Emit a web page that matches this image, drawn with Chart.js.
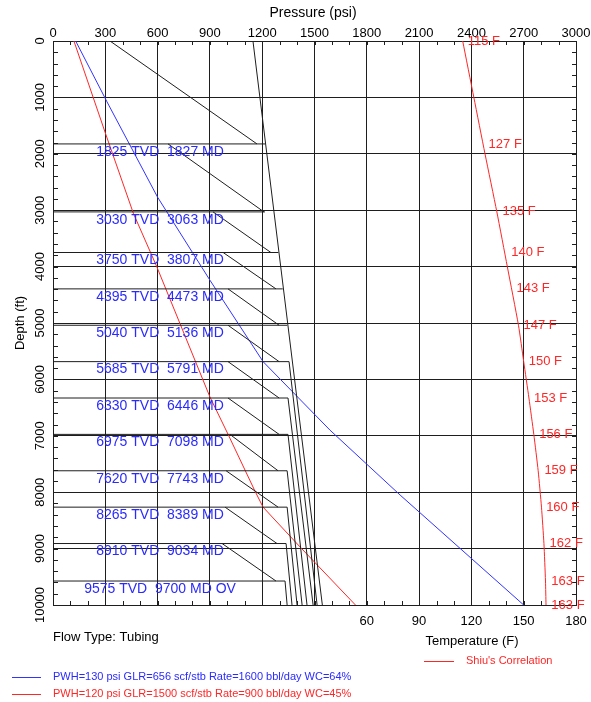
<!DOCTYPE html>
<html><head><meta charset="utf-8">
<script src="https://cdn.jsdelivr.net/npm/chart.js@4/dist/chart.umd.min.js"></script>
<style>html,body{margin:0;padding:0;background:#fff;}</style>
</head><body>
<canvas id="c" width="591" height="702" style="display:block;width:591px;height:702px"></canvas>
<script>
// ---------- data ----------
const pressureTicks = [0,300,600,900,1200,1500,1800,2100,2400,2700,3000];
const depthTicks = [0,1000,2000,3000,4000,5000,6000,7000,8000,9000,10000];
const tempTicks = [60,90,120,150,180];

// PWH=130 psi GLR=656 (blue)
const blueP = [130,310,600,900,1205,1589,1991,2700];
const blueD = [0,1080,2770,4240,5685,6900,8050,10000];
// PWH=120 psi GLR=1500 (red)
const redP = [120,300,461,595,900,1006,1160,1205,1417,1735];
const redD = [0,1630,3055,4000,6310,6986,7990,8265,8970,10000];

// Temperature (Shiu's correlation)
const tempF = [115,121.4,127.8,134.6,140.6,147,150,153,155.8,158.3,160.2,161.6,162.5,162.8];
const tempD = [0,1000,2000,3030,4000,5040,5685,6330,6975,7620,8265,8910,9575,10000];
const tempLabelF = [115,127,135,140,143,147,150,153,156,159,160,162,163,163];
const tempLabelD = [0,1825,3030,3750,4395,5040,5685,6330,6975,7620,8265,8910,9575,10000];

// Valves
const valveTVD = [1825,3030,3750,4395,5040,5685,6330,6975,7620,8265,8910,9575];
const valveMD = [1827,3063,3807,4473,5136,5791,6446,7098,7743,8389,9034,9700];
const valveSuffix = ['','','','','','','','','','','',' OV'];
const valveEndP = [1218,1216,1293,1318,1344,1354,1348,1348,1343,1343,1337,1331];
const valveBottomP = [null,null,null,null,null,1515,1492,1457,1429,1400,1371,1343];

// Unloading gradient lines
const diagStartP = [327,660,918,976,1004,1004,1004,1004,1015,993,987,970];
const diagStartD = [0,1825,3030,3750,4395,5040,5685,6330,6975,7620,8265,8910];
const diagEndP = [1170,1210,1250,1279,1297,1297,1297,1297,1291,1291,1285,1279];
const diagEndD = [1825,3030,3750,4395,5040,5685,6330,6975,7620,8265,8910,9575];

// Casing (injection) pressure line
const casingP = [1147,1545];
const casingD = [0,10000];

// ---------- build datasets ----------
const BLUE = '#3333ff', RED = '#ff2626', BLACK = '#1e1e1e';
const zip = (xs, ys) => xs.map((x,i)=>({x, y: ys[i]}));
const line = (data, color, extra) => Object.assign({data, borderColor: color, borderWidth: 1, pointRadius: 0, showLine: true, fill: false, tension: 0}, extra||{});

const datasets = [];
datasets.push(line([{x:casingP[0],y:casingD[0]},{x:casingP[1],y:casingD[1]}], BLACK));
valveTVD.forEach((d,i)=>{
  const pts = [{x:0,y:d},{x:valveEndP[i],y:d}];
  if (valveBottomP[i] !== null) pts.push({x:valveBottomP[i], y:10000});
  datasets.push(line(pts, BLACK));
});
diagStartP.forEach((p,i)=>{
  datasets.push(line([{x:p,y:diagStartD[i]},{x:diagEndP[i],y:diagEndD[i]}], BLACK));
});
datasets.push(line(zip(blueP, blueD), BLUE));
datasets.push(line(zip(redP, redD), RED));
datasets.push(line(zip(tempF, tempD), RED, {xAxisID: 'xT', tension: 0.2}));

const FONT = '"Liberation Sans", Arial, sans-serif';

const overlay = {
  id: 'overlay',
  afterDraw(chart) {
    const ctx = chart.ctx;
    const x = chart.scales.x, y = chart.scales.y, xT = chart.scales.xT;
    const a = chart.chartArea;
    ctx.save();
    // inward minor ticks
    ctx.strokeStyle = BLACK; ctx.lineWidth = 1;
    ctx.beginPath();
    for (let p = 0; p <= 3000; p += 100) {
      const px = Math.round(x.getPixelForValue(p)) + 0.5;
      ctx.moveTo(px, a.top); ctx.lineTo(px, a.top + 4);
      ctx.moveTo(px, a.bottom); ctx.lineTo(px, a.bottom - 4);
    }
    for (let d = 0; d <= 10000; d += 200) {
      const py = Math.round(y.getPixelForValue(d)) + 0.5;
      ctx.moveTo(a.left, py); ctx.lineTo(a.left + 5, py);
      ctx.moveTo(a.right, py); ctx.lineTo(a.right - 4, py);
    }
    ctx.stroke();

    // tick labels
    ctx.fillStyle = '#000';
    ctx.font = '13px ' + FONT;
    ctx.textAlign = 'center'; ctx.textBaseline = 'middle';
    pressureTicks.forEach(p => ctx.fillText(String(p), x.getPixelForValue(p), 33));
    tempTicks.forEach(t => ctx.fillText(String(t), xT.getPixelForValue(t), 621));
    depthTicks.forEach(d => {
      ctx.save();
      ctx.translate(40, y.getPixelForValue(d));
      ctx.rotate(-Math.PI/2);
      ctx.fillText(String(d), 0, 0);
      ctx.restore();
    });
    // titles
    ctx.font = '14px ' + FONT;
    ctx.fillText('Pressure (psi)', 313, 13);
    ctx.font = '13px ' + FONT;
    ctx.fillText('Temperature (F)', 472, 641);
    ctx.save(); ctx.translate(20, 323); ctx.rotate(-Math.PI/2);
    ctx.fillText('Depth (ft)', 0, 0); ctx.restore();
    ctx.textAlign = 'left';
    ctx.fillText('Flow Type: Tubing', 53, 637);

    // valve labels
    ctx.fillStyle = '#2a2aff';
    ctx.font = '14px ' + FONT;
    ctx.textAlign = 'center';
    valveTVD.forEach((d,i)=>{
      ctx.fillText(d + ' TVD  ' + valveMD[i] + ' MD' + valveSuffix[i], x.getPixelForValue(614), y.getPixelForValue(d) + 8);
    });

    // temperature labels
    ctx.fillStyle = RED;
    ctx.font = '13px ' + FONT;
    ctx.textAlign = 'left';
    tempLabelF.forEach((t,i)=>{
      ctx.fillText(t + ' F', xT.getPixelForValue(t) + 5, y.getPixelForValue(tempLabelD[i]));
    });

    // legend
    ctx.font = '11px ' + FONT;
    ctx.lineWidth = 1;
    ctx.strokeStyle = RED; ctx.beginPath(); ctx.moveTo(424, 661.5); ctx.lineTo(454, 661.5); ctx.stroke();
    ctx.fillStyle = RED; ctx.fillText("Shiu's Correlation", 466, 661);
    ctx.strokeStyle = BLUE; ctx.beginPath(); ctx.moveTo(12, 677.5); ctx.lineTo(41, 677.5); ctx.stroke();
    ctx.fillStyle = '#2a2aff'; ctx.fillText('PWH=130 psi GLR=656 scf/stb Rate=1600 bbl/day WC=64%', 53, 677);
    ctx.strokeStyle = RED; ctx.beginPath(); ctx.moveTo(12, 694.5); ctx.lineTo(41, 694.5); ctx.stroke();
    ctx.fillStyle = RED; ctx.fillText('PWH=120 psi GLR=1500 scf/stb Rate=900 bbl/day WC=45%', 53, 694);
    ctx.restore();
  }
};

new Chart(document.getElementById('c'), {
  type: 'scatter',
  data: { datasets },
  options: {
    responsive: false,
    devicePixelRatio: 1,
    animation: false,
    layout: { padding: { top: 41, left: 53, right: 15, bottom: 97 } },
    plugins: { legend: { display: false }, tooltip: { enabled: false } },
    scales: {
      x: {
        type: 'linear', position: 'top', min: 0, max: 3000,
        ticks: { display: false, stepSize: 300 },
        grid: { color: BLACK, lineWidth: 1, drawTicks: false },
        border: { display: true, color: BLACK }
      },
      xT: {
        type: 'linear', position: 'bottom', min: -120, max: 180,
        ticks: { display: false, stepSize: 30 },
        grid: { display: false, drawTicks: false },
        border: { display: true, color: BLACK }
      },
      y: {
        type: 'linear', position: 'left', min: 0, max: 10000, reverse: true,
        ticks: { display: false, stepSize: 1000 },
        grid: { color: BLACK, lineWidth: 1, drawTicks: false },
        border: { display: true, color: BLACK }
      }
    }
  },
  plugins: [overlay]
});
</script>
</body></html>
